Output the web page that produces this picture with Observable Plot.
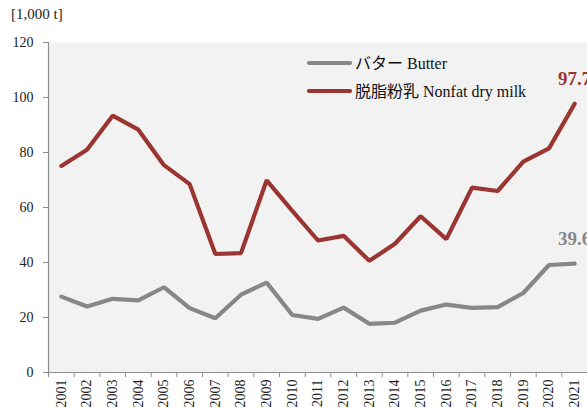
<!DOCTYPE html>
<html>
<head>
<meta charset="utf-8">
<script src="https://cdn.jsdelivr.net/npm/d3@7"></script>
<script src="https://cdn.jsdelivr.net/npm/@observablehq/plot@0.6"></script>
<style>
  html, body { margin: 0; padding: 0; background: #fff; }
  #chart { position: relative; width: 587px; height: 409px; }
  .unit { position: absolute; left: 11px; top: 6px; font: 15px "Liberation Serif", serif; color: #222; }
</style>
</head>
<body>
<div id="chart"><div class="unit">[1,000 t]</div></div>
<script>
const years = [2001,2002,2003,2004,2005,2006,2007,2008,2009,2010,2011,2012,2013,2014,2015,2016,2017,2018,2019,2020,2021];
const butter = [27.6,24.0,26.8,26.2,31.0,23.4,19.7,28.3,32.7,20.9,19.5,23.6,17.7,18.1,22.5,24.7,23.5,23.8,28.9,39.1,39.6];
const nonfatMilk = [75.1,81.0,93.4,88.3,75.4,68.5,43.1,43.4,69.9,58.8,48.0,49.7,40.6,46.8,56.8,48.5,67.2,66.0,76.7,81.5,97.7];
const seriesNames = ["バター Butter", "脱脂粉乳 Nonfat dry milk"];
const yTicks = [0,20,40,60,80,100,120];

const colors = {butter: "#878787", milk: "#9a3531"};
const font = '"Liberation Serif", "Noto Sans CJK JP", serif';

const rows = [
  ...years.map((y, i) => ({year: y, value: butter[i], s: "butter"})),
  ...years.map((y, i) => ({year: y, value: nonfatMilk[i], s: "milk"}))
];
const boundaries = [...years.map(y => y - 0.5), years[years.length - 1] + 0.5];
const last = [
  {year: years[years.length-1], value: nonfatMilk[nonfatMilk.length-1], s: "milk"},
  {year: years[years.length-1], value: butter[butter.length-1], s: "butter"}
];

const plot = Plot.plot({
  width: 587,
  height: 409,
  marginLeft: 48,
  marginRight: 0,
  marginTop: 42,
  marginBottom: 37,
  style: {fontFamily: font, fontSize: "14px", color: "#222", background: "transparent", overflow: "visible"},
  x: {type: "linear", domain: [years[0] - 0.5, years[years.length-1] + 0.5]},
  y: {domain: [0, 120]},
  marks: [
    Plot.frame({fill: "#f2f2f2", stroke: null}),
    Plot.axisY({ticks: yTicks, tickSize: 5, tickPadding: 10, stroke: "#8c8c8c", label: null, fill: "#222", fontSize: 14, fontFamily: font}),
    Plot.axisX({ticks: boundaries, tickSize: 5, tickFormat: () => "", stroke: "#8c8c8c", label: null}),
    Plot.axisX({ticks: years, tickSize: 0, tickPadding: 7, tickRotate: -90, tickFormat: d => String(d), label: null, fill: "#222", fontSize: 14, fontFamily: font}),
    Plot.ruleX([years[0] - 0.5], {stroke: "#8c8c8c", strokeWidth: 1.2}),
    Plot.ruleY([0], {stroke: "#8c8c8c", strokeWidth: 1.2}),
    Plot.line(rows, {x: "year", y: "value", z: "s", stroke: d => colors[d.s], strokeWidth: 4.2, strokeLinejoin: "miter", strokeLinecap: "round"}),
    Plot.text(last, {x: "year", y: "value", text: d => d.value.toFixed(1), fill: d => colors[d.s], dy: -25, fontWeight: "bold", fontSize: 19, textAnchor: "middle", fontFamily: font})
  ]
});

// legend inside the plot area
const svg = d3.select(plot);
const lg = svg.append("g").attr("text-anchor", "start");
const items = [
  {name: seriesNames[0], color: colors.butter, y: 63},
  {name: seriesNames[1], color: colors.milk, y: 91}
];
items.forEach(it => {
  lg.append("line").attr("x1", 309).attr("x2", 350).attr("y1", it.y).attr("y2", it.y)
    .attr("stroke", it.color).attr("stroke-width", 4.2).attr("stroke-linecap", "round");
  lg.append("text").attr("x", 355).attr("y", it.y).attr("dy", "0.35em")
    .attr("text-anchor", "start")
    .attr("font-size", 16).attr("fill", "#111").attr("font-family", font).text(it.name);
});

const chart = document.getElementById("chart");
plot.style.position = "absolute";
plot.style.left = "0";
plot.style.top = "0";
chart.appendChild(plot);
</script>
</body>
</html>
